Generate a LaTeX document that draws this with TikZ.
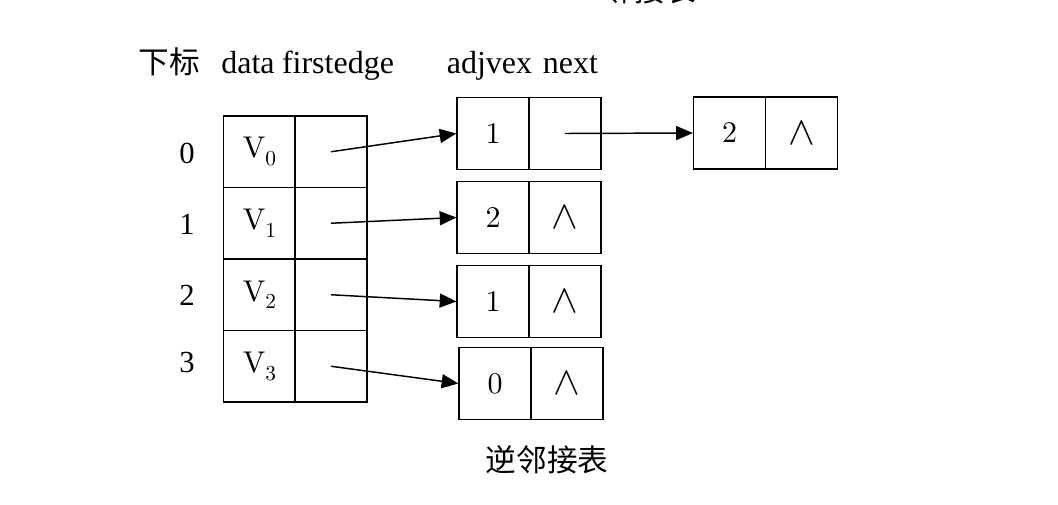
\RequirePackage{fix-cm}
\documentclass[tikz,border=0pt]{standalone}
\usepackage{fontspec}
\newfontfamily\tnr{Liberation Serif}
\newfontfamily\cjk{Noto Sans CJK SC}
\newfontfamily\lmten{lmroman10-regular}[Extension=.otf]
\usetikzlibrary{arrows.meta}
\newcommand{\vx}[1]{V\raisebox{-0.26em}{\fontsize{16}{16}\selectfont #1}}
\newcommand{\nil}{\fontsize{30}{30}\selectfont$\wedge$}
\begin{document}
\begin{tikzpicture}[x=0.75pt,y=-0.75pt,
  box/.style={draw, line width=1.15pt, minimum width=53.8pt, minimum height=53.8pt, inner sep=0pt, font=\lmten\fontsize{22.5}{26}\selectfont},
  lbl/.style={font=\tnr\fontsize{24}{28}\selectfont, inner sep=0pt, anchor=base},
  idx/.style={font=\tnr\fontsize{23}{27}\selectfont, inner sep=0pt},
  cjktext/.style={font=\cjk\fontsize{23}{27}\selectfont, inner sep=0pt},
  arr/.style={line width=1.1pt, -{Triangle[length=12.5pt,width=10.5pt]}}]
\useasboundingbox (0,0) rectangle (1058,504);
% cut-off title at top (as in the reference)
\node[cjktext, anchor=base] (title) at (650,1) {邻接表};
% headers
\node[lbl, font=\cjk\fontsize{23}{27}\selectfont] (hidx) at (169,73) {下标};
\node[lbl] (hdata) at (248,73) {data};
\node[lbl] (hfirst) at (338,73) {firstedge};
\node[lbl] (hadj) at (489.5,73) {adjvex};
\node[lbl] (hnext) at (570.5,73) {next};
% vertex table
\node[box] (d0) at (259.5,151.75) {\vx{0}};
\node[box] (f0) at (331,151.75) {};
\node[box] (d1) at (259.5,223.25) {\vx{1}};
\node[box] (f1) at (331,223.25) {};
\node[box] (d2) at (259.5,294.75) {\vx{2}};
\node[box] (f2) at (331,294.75) {};
\node[box] (d3) at (259.5,366.25) {\vx{3}};
\node[box] (f3) at (331,366.25) {};
% indices
\node[idx] (i0) at (187,153) {0};
\node[idx] (i1) at (187,224) {1};
\node[idx] (i2) at (187,295) {2};
\node[idx] (i3) at (187,362) {3};
% edge nodes
\node[box] (a0) at (493,133.5) {1};
\node[box] (n0) at (565,133.5) {};
\node[box] (a1) at (493,217.5) {2};
\node[box] (n1) at (565,217.5) {\nil};
\node[box] (a2) at (493,301.5) {1};
\node[box] (n2) at (565,301.5) {\nil};
\node[box] (a3) at (495,383.5) {0};
\node[box] (n3) at (567,383.5) {\nil};
\node[box] (b0) at (729.5,133) {2};
\node[box] (m0) at (801.5,133) {\nil};
% arrows
\draw[arr] (f0.center) -- (a0.west);
\draw[arr] (f1.center) -- (a1.west);
\draw[arr] (f2.center) -- (a2.west);
\draw[arr] (f3.center) -- (a3.west);
\draw[arr] (n0.center) -- (b0.west);
% caption
\node[cjktext] (caption) at (547,460) {逆邻接表};
\end{tikzpicture}
\end{document}
